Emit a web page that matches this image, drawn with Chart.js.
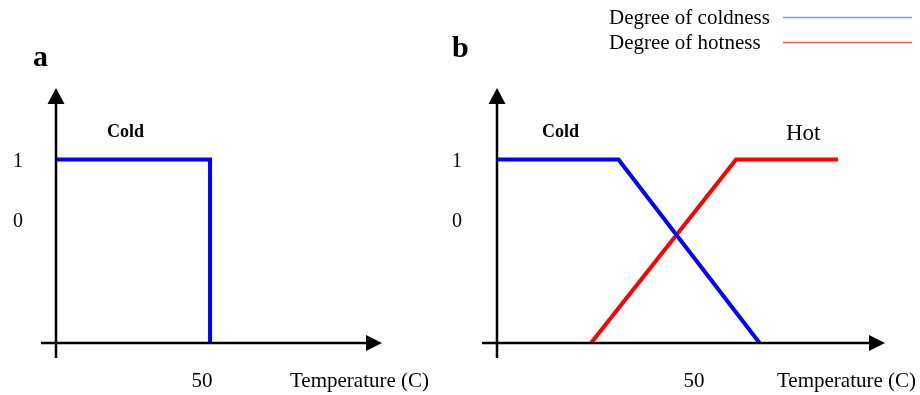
<!DOCTYPE html>
<html>
<head>
<meta charset="utf-8">
<script src="https://cdn.jsdelivr.net/npm/chart.js@4.4.1/dist/chart.umd.min.js"></script>
<style>
  html, body { margin: 0; padding: 0; background: #fff; }
  #wrap { position: relative; width: 920px; height: 395px; }
  #chartA { position: absolute; left: 0; top: 0; }
  #chartB { position: absolute; left: 440px; top: 0; }
</style>
</head>
<body>
<div id="wrap">
  <canvas id="chartA" width="440" height="395"></canvas>
  <canvas id="chartB" width="480" height="395"></canvas>
</div>
<script>
// panel a: crisp set
const coldA_x = [0, 50, 50];
const coldA_y = [1, 1, 0];
// panel b: fuzzy sets
const coldB_x = [0, 31, 67];
const coldB_y = [1, 1, 0];
const hotB_x = [24, 61, 87];
const hotB_y = [0, 1, 1];
// tick labels (the "0" sits high in the original figure)
const xTickValues = [50];
const yTickLabels = ['1', '0'];
const yTickValues = [1, 0.67];
const seriesNames = ['Degree of coldness', 'Degree of hotness'];

const serif = '"Liberation Serif", "Times New Roman", serif';

function pts(xs, ys) {
  return xs.map((x, i) => ({ x: x, y: ys[i] }));
}

// draws arrowed axes, tick labels and annotations
const figurePlugin = {
  id: 'figure',
  afterDraw(chart, args, opts) {
    const ctx = chart.ctx;
    const xs = chart.scales.x, ys = chart.scales.y;
    const area = chart.chartArea;
    const x0 = xs.getPixelForValue(0);
    const y0 = ys.getPixelForValue(0);
    const ah = 16;

    ctx.save();
    ctx.strokeStyle = '#000';
    ctx.fillStyle = '#000';
    ctx.lineWidth = 2.5;
    // y axis
    ctx.beginPath();
    ctx.moveTo(x0, y0 + 15);
    ctx.lineTo(x0, area.top + ah - 1);
    ctx.stroke();
    ctx.beginPath();
    ctx.moveTo(x0, area.top);
    ctx.lineTo(x0 - 8.5, area.top + ah);
    ctx.lineTo(x0 + 8.5, area.top + ah);
    ctx.closePath();
    ctx.fill();
    // x axis
    ctx.beginPath();
    ctx.moveTo(x0 - 15, y0);
    ctx.lineTo(area.right - ah + 1, y0);
    ctx.stroke();
    ctx.beginPath();
    ctx.moveTo(area.right, y0);
    ctx.lineTo(area.right - ah, y0 - 8);
    ctx.lineTo(area.right - ah, y0 + 8);
    ctx.closePath();
    ctx.fill();

    ctx.textBaseline = 'alphabetic';
    // y tick labels
    ctx.font = '20px ' + serif;
    ctx.textAlign = 'left';
    yTickLabels.forEach((t, i) => {
      ctx.fillText(t, opts.yLabelX, ys.getPixelForValue(yTickValues[i]) + 7);
    });
    // x tick labels
    ctx.font = '21px ' + serif;
    ctx.textAlign = 'center';
    xTickValues.forEach(v => {
      ctx.fillText(String(v), xs.getPixelForValue(v) + opts.xLabelShift, 387);
    });
    ctx.textAlign = 'left';
    ctx.fillText('Temperature (C)', opts.titleX, 387);

    // panel letter
    ctx.font = 'bold 30px ' + serif;
    ctx.fillText(opts.letter, opts.letterPos[0], opts.letterPos[1]);
    // set names
    (opts.notes || []).forEach(n => {
      ctx.font = n.font + ' ' + serif;
      ctx.fillText(n.text, n.x, n.y);
    });

    // legend
    if (opts.legend) {
      ctx.font = '21px ' + serif;
      chart.data.datasets.forEach((ds, i) => {
        const ly = opts.legend.y[i];
        ctx.fillStyle = '#000';
        ctx.fillText(ds.label, opts.legend.textX, ly + 6);
        ctx.strokeStyle = opts.legend.colors[i];
        ctx.lineWidth = 1.6;
        ctx.beginPath();
        ctx.moveTo(opts.legend.lineX[0], ly);
        ctx.lineTo(opts.legend.lineX[1], ly);
        ctx.stroke();
      });
    }
    ctx.restore();
  }
};

function baseOptions(xMax, pad, fig) {
  return {
    responsive: false,
    animation: false,
    layout: { padding: pad },
    plugins: { legend: { display: false }, tooltip: { enabled: false }, figure: fig },
    scales: {
      x: { type: 'linear', min: 0, max: xMax, display: false },
      y: { type: 'linear', min: 0, max: 1.39, display: false }
    },
    elements: { point: { radius: 0 }, line: { tension: 0, borderWidth: 4, borderCapStyle: 'butt', borderJoinStyle: 'miter' } }
  };
}

new Chart(document.getElementById('chartA'), {
  type: 'line',
  data: {
    datasets: [{ label: seriesNames[0], data: pts(coldA_x, coldA_y), borderColor: '#0000ff', fill: false }]
  },
  options: baseOptions(105.8, { left: 56, right: 58, top: 88, bottom: 52 }, {
    letter: 'a', letterPos: [33, 66],
    yLabelX: 13, xLabelShift: -8, titleX: 290,
    notes: [{ text: 'Cold', x: 107, y: 137, font: 'bold 18px' }]
  }),
  plugins: [figurePlugin]
});

new Chart(document.getElementById('chartB'), {
  type: 'line',
  data: {
    datasets: [
      { label: seriesNames[0], data: pts(coldB_x, coldB_y), borderColor: '#0000ff', fill: false },
      { label: seriesNames[1], data: pts(hotB_x, hotB_y), borderColor: '#ff0000', fill: false }
    ]
  },
  options: baseOptions(99, { left: 57, right: 35, top: 88, bottom: 52 }, {
    letter: 'b', letterPos: [12, 57],
    yLabelX: 12, xLabelShift: 1, titleX: 337,
    notes: [
      { text: 'Cold', x: 102, y: 137, font: 'bold 18px' },
      { text: 'Hot', x: 346, y: 140, font: '23px' }
    ],
    legend: { textX: 169, y: [17.5, 42.5], lineX: [343, 472], colors: ['#7fa0d8', '#ff5a5a'] }
  }),
  plugins: [figurePlugin]
});
</script>
</body>
</html>
